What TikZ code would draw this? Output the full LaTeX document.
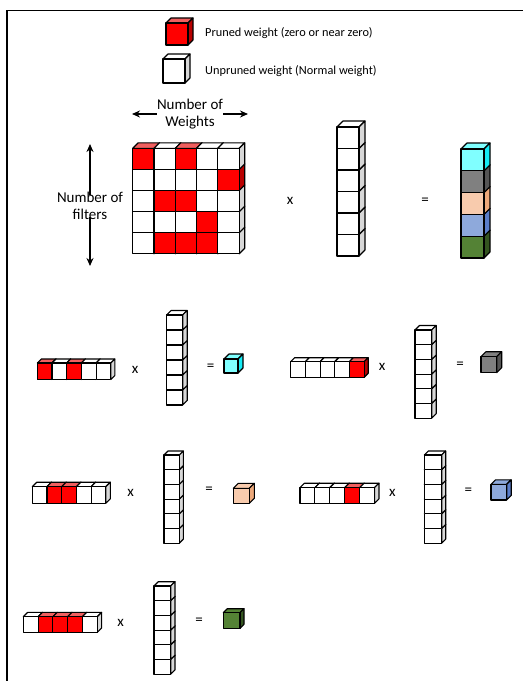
\documentclass[tikz,border=0pt]{standalone}
\usepackage{fontspec}
\setmainfont{Carlito}
\usetikzlibrary{arrows.meta}
\definecolor{pred}{RGB}{255,0,0}
\definecolor{predtop}{RGB}{240,95,95}
\definecolor{predside}{RGB}{185,0,0}
\definecolor{wside}{RGB}{215,215,215}
\definecolor{cyanF}{RGB}{128,255,255}
\definecolor{cyanS}{RGB}{20,235,245}
\definecolor{grayF}{RGB}{128,128,128}
\definecolor{grayS}{RGB}{85,85,85}
\definecolor{peachF}{RGB}{248,203,173}
\definecolor{peachS}{RGB}{236,168,122}
\definecolor{blueF}{RGB}{142,169,219}
\definecolor{blueS}{RGB}{90,125,200}
\definecolor{greenF}{RGB}{84,130,53}
\definecolor{greenS}{RGB}{52,85,32}
\tikzset{
  cubeline/.style={draw=black,line width=1.1pt,line join=round},
  arr/.style={-{Stealth[length=8pt,width=7pt]},line width=1.3pt},
  bigtxt/.style={font=\fontsize{15}{16.5}\selectfont,align=center,inner sep=0pt},
  legtxt/.style={font=\fontsize{12.3}{14}\selectfont,anchor=west,inner sep=0pt},
  optxt/.style={font=\fontsize{15}{16}\selectfont,inner sep=0pt}
}
% x y w h d front top side
\newcommand{\mycube}[8]{%
  \filldraw[cubeline,fill=#7] (#1,#2) -- ++(#5,-#5) -- ++(#3,0) -- ++(-#5,#5) -- cycle;
  \filldraw[cubeline,fill=#8] (#1+#3,#2) -- ++(#5,-#5) -- ++(0,#4) -- ++(-#5,#5) -- cycle;
  \filldraw[cubeline,fill=#6] (#1,#2) rectangle ++(#3,#4);
}
\newcommand{\rcube}[5]{\mycube{#1}{#2}{#3}{#4}{#5}{pred}{predtop}{predside}}
\newcommand{\wcube}[5]{\mycube{#1}{#2}{#3}{#4}{#5}{white}{white}{wside}}
% x y w h d list-of-r/w
\newcommand{\cellrow}[6]{%
  \foreach \t [count=\i from 0] in {#6} {\csname\t cube\endcsname{#1+\i*#3}{#2}{#3}{#4}{#5}}}
% x y w h d : six white cubes stacked
\newcommand{\cellcol}[5]{%
  \foreach \k in {5,4,3,2,1,0} {\wcube{#1}{#2+\k*#4}{#3}{#4}{#5}}}
\begin{document}
\begin{tikzpicture}[x=1pt,y=-1pt]
\useasboundingbox (0,0) rectangle (523,681);
% frame
\draw[line width=1.6pt] (7,681) -- (7,10.5) -- (523,10.5);
% legend
\rcube{166}{23}{22}{22}{5}
\wcube{163}{59}{22}{24}{5}
\node[legtxt] (lp) at (205,33) {Pruned weight (zero or near zero)};
\node[legtxt] (lu) at (205,71) {Unpruned weight (Normal weight)};
% main matrix
\cellrow{132.7}{148.3+4*21.1}{21.3}{21.1}{5.5}{w,r,r,r,w}
\cellrow{132.7}{148.3+3*21.1}{21.3}{21.1}{5.5}{w,w,w,r,w}
\cellrow{132.7}{148.3+2*21.1}{21.3}{21.1}{5.5}{w,r,r,w,w}
\cellrow{132.7}{148.3+1*21.1}{21.3}{21.1}{5.5}{w,w,w,w,r}
\cellrow{132.7}{148.3}{21.3}{21.1}{5.5}{r,w,r,w,w}
% labels and arrows
\node[bigtxt] (nw) at (190,114) {Number of\\Weights};
\coordinate (nwl) at (132,114);
\coordinate (nwr) at (248,114);
\draw[arr] (nw.west) -- (nwl);
\draw[arr] (nw.east) -- (nwr);
\node[bigtxt] (nf) at (90,206) {Number of\\filters};
\coordinate (nft) at (90,144);
\coordinate (nfb) at (90,266);
\draw[arr] ([yshift=-3pt]nf.north) -- (nft);
\draw[arr] ([yshift=3pt]nf.south) -- (nfb);
% main vector and result
\cellcol{337}{127}{22}{21.5}{6}
\node[optxt] (mx) at (290,201) {x};
\node[optxt] (me) at (425,201) {=};
\mycube{461}{149+4*21.8}{23}{21.8}{6}{greenF}{greenF}{greenS}
\mycube{461}{149+3*21.8}{23}{21.8}{6}{blueF}{blueF}{blueS}
\mycube{461}{149+2*21.8}{23}{21.8}{6}{peachF}{peachF}{peachS}
\mycube{461}{149+1*21.8}{23}{21.8}{6}{grayF}{grayF}{grayS}
\mycube{461}{149}{23}{21.8}{6}{cyanF}{cyanF}{cyanS}
% row 1
\cellrow{37.3}{363}{14.7}{16.5}{4}{r,w,r,w,w}
\node[optxt] (x1) at (135,370) {x};
\cellcol{166.7}{315}{16}{15}{4.5}
\node[optxt] (e1) at (210.7,367) {=};
\mycube{224}{359}{14}{14}{5}{cyanF}{cyanF}{cyanS}
% row 2
\cellrow{290.7}{361.7}{14.7}{15.6}{4}{w,w,w,w,r}
\node[optxt] (x2) at (382,367) {x};
\cellcol{415}{330}{16.7}{14.7}{4.5}
\node[optxt] (e2) at (460,365) {=};
\mycube{481}{356.7}{15.7}{16}{5}{grayF}{grayF}{grayS}
% row 3
\cellrow{32.3}{486.7}{14.7}{16.6}{4.5}{w,r,r,w,w}
\node[optxt] (x3) at (130.7,492.7) {x};
\cellcol{164}{455}{15.3}{14.7}{4}
\node[optxt] (e3) at (209,490.7) {=};
\mycube{233.3}{488.3}{16}{15}{5}{peachF}{peachF}{peachS}
% row 4
\cellrow{300}{487.7}{14.9}{15.6}{4.5}{w,w,w,r,w}
\node[optxt] (x4) at (392.3,492.7) {x};
\cellcol{424.3}{455}{17.4}{14.7}{4}
\node[optxt] (e4) at (468.3,491.7) {=};
\mycube{491}{484.3}{15.7}{15.7}{4.5}{blueF}{blueF}{blueS}
% row 5
\cellrow{23.3}{616.7}{14.8}{15.6}{4.3}{w,r,r,r,w}
\node[optxt] (x5) at (120.7,623.3) {x};
\cellcol{154}{586}{16.7}{14.7}{4.3}
\node[optxt] (e5) at (199,621.7) {=};
\mycube{223.3}{612.7}{16.7}{15.6}{4}{greenF}{greenF}{greenS}
\end{tikzpicture}
\end{document}
